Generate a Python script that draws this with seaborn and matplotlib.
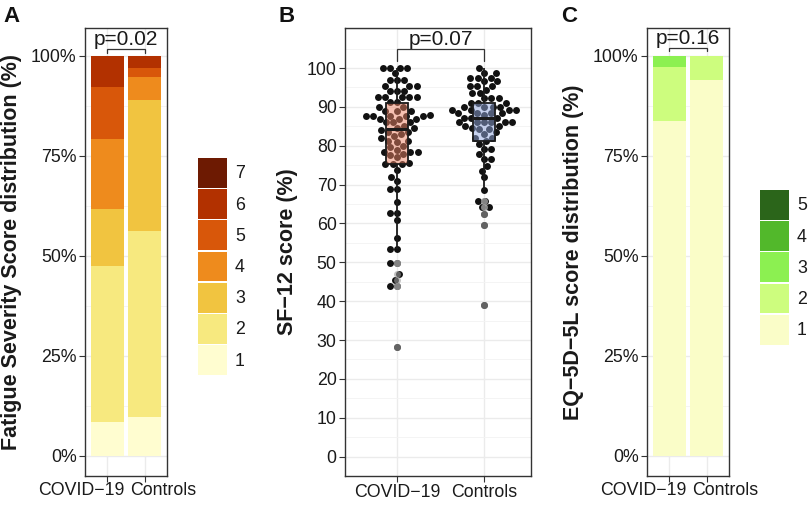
import numpy as np
import pandas as pd
import matplotlib
matplotlib.use("Agg")
import matplotlib.pyplot as plt
import seaborn as sns
from matplotlib.patches import Patch
from matplotlib.ticker import PercentFormatter, MultipleLocator

groups = ["COVID\u221219", "Controls"]

# Fatigue Severity Score distribution, % of each group for scores 1..7
fss_levels = ["1", "2", "3", "4", "5", "6", "7"]
fss_covid = [8.6, 39.0, 14.2, 17.4, 13.0, 7.8, 0.0]
fss_controls = [9.8, 46.5, 32.8, 5.6, 2.4, 2.9, 0.0]
fss_colors = ["#fffdd0", "#f7e97f", "#f1c440", "#ee8b1d", "#d8570a", "#b23100", "#6d1a02"]

# EQ-5D-5L score distribution, % of each group for scores 1..5
eq_levels = ["1", "2", "3", "4", "5"]
eq_covid = [83.8, 13.4, 2.8, 0.0, 0.0]
eq_controls = [94.0, 6.0, 0.0, 0.0, 0.0]
eq_colors = ["#fafdc8", "#cdfd7e", "#8cf051", "#52b82b", "#2b651a"]

# SF-12 scores (%)
sf12_covid = [100, 100, 100, 100, 98.7, 97, 97, 97, 95.5, 95.5, 95.5, 94.2, 94.2, 94.2,
              92.5, 92.5, 92.5, 92.5, 92.5, 91.2, 91.2, 90, 90, 89, 89, 89, 88,
              87.6, 87.6, 87.6, 87.6, 87.6, 87, 86.9, 86.9, 86, 86, 86, 85, 84.5, 84.5,
              84, 83.5, 83.5, 83, 82.6, 82, 81.3, 81.3, 81, 80, 79.6, 79, 78.3, 78.3,
              78.3, 78, 77.5, 77, 75.5, 75.2, 75.2, 75.2, 73.8, 71.9, 71, 68.9, 68.9,
              65.5, 62.8, 62.8, 60.8, 56.3, 53.3, 53.3, 49.9, 49.9, 46.9, 45.5, 43.8,
              43.8, 28.3]
sf12_controls = [100, 98.7, 98.7, 97.4, 97.4, 97.4, 96.6, 96.6, 95.3, 95.3, 95.3, 94.4,
                 93.6, 93.6, 92.2, 92.2, 92.2, 91.1, 91.1, 91.1, 90, 90, 90, 90,
                 89.2, 89.2, 89.2, 89.2, 88.3, 88.3, 88.3, 88.3, 88, 87.2, 87.2, 87.2,
                 86, 86, 86, 86, 86, 86, 85.2, 85.2, 84.5, 84.3, 84.3, 83.5, 83, 82, 82,
                 81.2, 80.5, 79.2, 79.2, 77.9, 76.6, 76.6, 74.9, 73.6, 71.9, 68.7,
                 65.8, 65.8, 64.2, 64.2, 62.5, 59.5, 39]
box_colors = ["#ee8466", "#91a7de"]

p_values = ["p=0.02", "p=0.07", "p=0.16"]

sns.set_theme(style="white")
plt.rcParams["font.family"] = ["Liberation Sans", "DejaVu Sans"]

TXT = "#1a1a1a"
EDGE = "#333333"
FS = 12.8

fig = plt.figure(figsize=(8.12, 5.08), dpi=100)
W, H = 812, 508


def add_axes(left, right, top=28, bottom=476):
    return fig.add_axes([left / W, 1 - bottom / H, (right - left) / W, (bottom - top) / H])


def style_axes(ax):
    ax.set_axisbelow(True)
    for s in ax.spines.values():
        s.set_visible(True)
        s.set_color(EDGE)
        s.set_linewidth(1.0)
    ax.grid(which="major", color="#ebebeb", linewidth=1.0)
    ax.grid(which="minor", axis="y", color="#f3f3f3", linewidth=0.6)
    ax.tick_params(which="major", length=4, width=0.8, color=EDGE, pad=2,
                   labelsize=FS, labelcolor=TXT, bottom=True, left=True)
    ax.tick_params(which="minor", length=0)
    ax.set_xlabel("")
    ax.set_ylabel("")


def stacked_panel(ax, covid, controls, colors):
    cum_cov = np.cumsum(covid) / 100
    cum_con = np.cumsum(controls) / 100
    # draw from the top level down so each lower level covers the one above
    for i in reversed(range(len(colors))):
        sns.barplot(x=groups, y=[cum_cov[i], cum_con[i]], color=colors[i], saturation=1,
                    width=0.9, linewidth=0, errorbar=None, ax=ax)
    ax.set_xlim(-0.6, 1.6)
    ax.set_ylim(-0.05, 1.07)
    ax.set_yticks([0, 0.25, 0.5, 0.75, 1.0])
    ax.yaxis.set_minor_locator(MultipleLocator(0.125))
    ax.yaxis.set_major_formatter(PercentFormatter(xmax=1, decimals=0))
    style_axes(ax)
    ax.set_xticks([0, 1])
    ax.set_xticklabels(["", ""])
    # squeezed group labels (as in the original)
    ax.annotate(groups[0], xy=(0, 0), xycoords=ax.get_xaxis_transform(),
                xytext=(17 * 0.72, -6 * 0.72), textcoords="offset points",
                ha="right", va="top", fontsize=FS, color=TXT)
    ax.annotate(groups[1], xy=(1, 0), xycoords=ax.get_xaxis_transform(),
                xytext=(-15 * 0.72, -6 * 0.72), textcoords="offset points",
                ha="left", va="top", fontsize=FS, color=TXT)


def bracket(ax, y_low, y_high, y_text, label):
    ax.plot([0, 0, 1, 1], [y_low, y_high, y_high, y_low], color=EDGE, lw=0.9,
            solid_joinstyle="miter", zorder=5)
    ax.text(0.5, y_text, label, ha="center", va="baseline", fontsize=15, color=TXT)


def add_legend(levels, colors, left, top):
    handles = [Patch(facecolor=c, edgecolor="none") for c in colors[::-1]]
    fig.legend(handles, levels[::-1], loc="upper left",
               bbox_to_anchor=(left / W, 1 - top / H), frameon=False,
               borderpad=0, borderaxespad=0, handlelength=1.63, handleheight=2.2,
               labelspacing=0.08, handletextpad=0.45, fontsize=FS, labelcolor=TXT)


# Panel A
ax_a = add_axes(85, 167)
stacked_panel(ax_a, fss_covid, fss_controls, fss_colors)
bracket(ax_a, 1.008, 1.017, 1.027, p_values[0])
add_legend(fss_levels, fss_colors, 198, 158)

# Panel B
ax_b = add_axes(345, 531)
df_sf = pd.DataFrame({
    "group": [groups[0]] * len(sf12_covid) + [groups[1]] * len(sf12_controls),
    "score": sf12_covid + sf12_controls,
})
sns.swarmplot(data=df_sf, x="group", y="score", order=groups, color="#111111",
              size=5, linewidth=0, warn_thresh=1, ax=ax_b)
sns.boxplot(data=df_sf, x="group", y="score", order=groups, hue="group",
            hue_order=groups, palette=box_colors, saturation=1, width=0.25,
            linecolor="#1a1a1a", linewidth=1.3, showcaps=False, fliersize=5,
            flierprops=dict(markerfacecolor="#9a9a9a", markeredgecolor="none", alpha=0.6),
            medianprops=dict(linewidth=2.2), legend=False, ax=ax_b)
for c in ax_b.collections:
    c.set_zorder(2)
for p in ax_b.patches:
    fc = p.get_facecolor()
    p.set_facecolor((fc[0], fc[1], fc[2], 0.5))
    p.set_zorder(3)
for ln in ax_b.lines:
    ln.set_zorder(4)
ax_b.set_xlim(-0.6, 1.54)
ax_b.set_ylim(-5, 110.3)
ax_b.set_yticks(range(0, 101, 10))
ax_b.yaxis.set_minor_locator(MultipleLocator(5))
style_axes(ax_b)
bracket(ax_b, 101.9, 104.9, 106.0, p_values[1])

# Panel C
ax_c = add_axes(647, 729)
stacked_panel(ax_c, eq_covid, eq_controls, eq_colors)
bracket(ax_c, 1.012, 1.019, 1.029, p_values[2])
add_legend(eq_levels, eq_colors, 760, 190)

# y labels and panel letters
ylab_kw = dict(rotation=90, ha="center", va="center", fontsize=15.5,
               fontweight="bold", color=TXT)
mid = 1 - 252 / H
fig.text(11.5 / W, mid, "Fatigue Severity Score distribution (%)", **ylab_kw)
fig.text(288 / W, mid, "SF\u221212 score (%)", **ylab_kw)
fig.text(573.5 / W, mid, "EQ\u22125D\u22125L score distribution (%)", **ylab_kw)

for x, letter in [(3, "A"), (279, "B"), (561, "C")]:
    fig.text(x / W, 1 - 6 / H, letter, ha="left", va="top", fontsize=16,
             fontweight="bold", color="#111111")

fig.savefig("out.png", dpi=100)
plt.close(fig)
